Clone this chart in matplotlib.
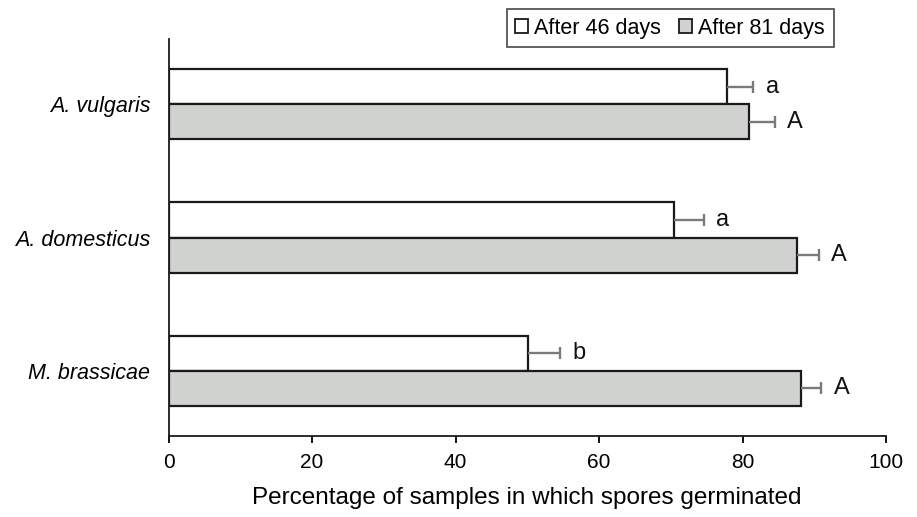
import matplotlib
matplotlib.use("Agg")
import matplotlib.pyplot as plt
import numpy as np
from matplotlib.patches import Patch

plt.rcParams['font.family'] = ['Liberation Sans', 'DejaVu Sans']

species = ["M. brassicae", "A. domesticus", "A. vulgaris"]
after46 = [50.1, 70.5, 77.8]
after46_err = [4.5, 4.1, 3.7]
after81 = [88.1, 87.6, 80.9]
after81_err = [2.9, 3.0, 3.6]
letters46 = ["b", "a", "a"]
letters81 = ["A", "A", "A"]
series_labels = ["After 46 days", "After 81 days"]
xticks = [0, 20, 40, 60, 80, 100]
xlabel = "Percentage of samples in which spores germinated"

fig = plt.figure(figsize=(9.17, 5.17), dpi=100)
ax = fig.add_axes([168.5/917, 1-436/517, (886-168.5)/917, (436-39.3)/517])

y = np.arange(len(species))
h = 0.263
edge = "#1a1a1a"
gray = "#d0d2d0"
errc = "#7a7a7a"

ax.barh(y + h/2, after46, height=h, color="white", edgecolor=edge, linewidth=1.6, zorder=2)
ax.barh(y - h/2, after81, height=h, color=gray, edgecolor=edge, linewidth=1.6, zorder=2)

def one_sided(vals, errs, ypos):
    vals = np.asarray(vals); errs = np.asarray(errs)
    ends = vals + errs
    ax.hlines(ypos, vals, ends, color=errc, linewidth=1.7, zorder=3)
    ax.plot(ends, ypos, linestyle="none", marker="|", markersize=8,
            markeredgewidth=1.7, color=errc, zorder=3)
    return ends

ends46 = one_sided(after46, after46_err, y + h/2)
ends81 = one_sided(after81, after81_err, y - h/2)

for i in range(len(species)):
    ax.annotate(letters46[i], xy=(ends46[i], y[i] + h/2),
                xytext=(9, 0), textcoords="offset points", ha="left", va="center",
                fontsize=17, color="#111111")
    ax.annotate(letters81[i], xy=(ends81[i], y[i] - h/2),
                xytext=(9, 0), textcoords="offset points", ha="left", va="center",
                fontsize=17, color="#111111")

ax.set_xlim(0, 100)
ax.set_ylim(-0.49, 2.488)
ax.set_xticks(xticks)
ax.set_xticklabels([str(t) for t in xticks], fontsize=15)
ax.set_yticks(y)
ax.set_yticklabels(species, fontsize=15.5, style="italic")
ax.tick_params(axis="y", length=0, pad=13)
ax.tick_params(axis="x", direction="out", length=5, width=1.3, pad=7)
ax.set_xlabel(xlabel, fontsize=17.5, labelpad=11)

for s in ["top", "right"]:
    ax.spines[s].set_visible(False)
for s in ["left", "bottom"]:
    ax.spines[s].set_linewidth(1.3)
    ax.spines[s].set_color("#1a1a1a")

handles = [Patch(facecolor="white", edgecolor=edge, linewidth=1.3),
           Patch(facecolor=gray, edgecolor=edge, linewidth=1.3)]
leg = fig.legend(handles, series_labels, ncol=2, loc="upper right",
                 bbox_to_anchor=(833.5/917, 1 - 9/517), fontsize=15.5,
                 frameon=True, fancybox=False, handlelength=0.6, handleheight=0.6,
                 handletextpad=0.28, columnspacing=0.85, borderpad=0.4,
                 borderaxespad=0)
leg.get_frame().set_edgecolor("#1a1a1a")
leg.get_frame().set_linewidth(1.2)

fig.savefig("out.png", dpi=100)
